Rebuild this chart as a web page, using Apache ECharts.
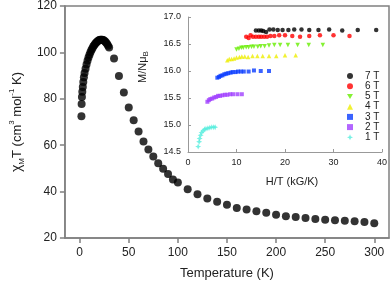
<!DOCTYPE html>
<html>
<head>
<meta charset="utf-8">
<script src="https://cdn.jsdelivr.net/npm/echarts@6/dist/echarts.min.js"></script>
<style>
html,body{margin:0;padding:0;background:#fff;}
#chart{width:391px;height:285px;}
</style>
</head>
<body>
<div id="chart"></div>
<script>
// Main curve: chi_M T vs Temperature
const temperature = [1.8, 2.0, 2.3, 2.7, 3.2, 3.7, 4.3, 5, 6, 7, 8, 9, 10, 11, 12, 13, 14, 15, 16, 17, 18, 19, 20, 21, 22, 23, 24, 25, 26, 27, 28, 29, 30,
  35, 40, 45, 50, 55, 60, 65, 70, 75, 80, 85, 90, 95, 100, 110, 120, 130, 140, 150, 160, 170, 180, 190, 200, 210, 220, 230, 240, 250, 260, 270, 280, 290, 300];
const chiT = [72.5, 77.8, 80.8, 83.0, 85.1, 87.2, 89.3, 91.1, 93.0, 94.8, 96.4, 97.8, 99.0, 100.1, 101.0, 101.8, 102.6, 103.2, 103.8, 104.3, 104.7, 105.0, 105.3, 105.4, 105.5, 105.4, 105.3, 105.0, 104.7, 104.2, 103.6, 102.9, 102.1,
  97.4, 89.8, 82.7, 76.2, 70.8, 65.9, 61.6, 58.2, 55.1, 52.2, 49.9, 47.6, 45.2, 43.9, 41.0, 38.9, 37.0, 35.6, 34.3, 32.9, 32.3, 31.5, 30.9, 30.0, 29.4, 29.0, 28.6, 28.2, 27.9, 27.6, 27.4, 27.2, 26.9, 26.4];
const tempTicks = [0, 50, 100, 150, 200, 250, 300];

// Inset: M/NuB vs H/T for each field
const fieldNames = ['7 T', '6 T', '5 T', '4 T', '3 T', '2 T', '1 T'];
const h7 = [14.0, 14.6, 15.1, 15.5, 16.1, 16.8, 17.6, 18.5, 19.5, 20.7, 21.9, 23.4, 25.0, 26.9, 29.1, 31.8, 35.0, 38.8];
const m7 = [16.75, 16.75, 16.75, 16.74, 16.72, 16.77, 16.77, 16.76, 16.76, 16.76, 16.77, 16.77, 16.76, 16.76, 16.77, 16.75, 16.76, 16.76];
const h6 = [12.0, 12.5, 12.9, 13.4, 14.0, 14.6, 15.1, 15.7, 16.3, 17.0, 17.8, 18.8, 20.0, 21.5, 23.1, 25.0, 27.2, 30.0, 33.3];
const m6 = [16.635, 16.61, 16.66, 16.635, 16.635, 16.635, 16.635, 16.635, 16.635, 16.65, 16.65, 16.66, 16.66, 16.65, 16.635, 16.65, 16.66, 16.66, 16.65];
const h5 = [10.0, 10.5, 11.0, 11.4, 12.0, 12.5, 13.1, 13.6, 14.4, 15.0, 15.8, 16.7, 17.8, 19.0, 20.6, 22.6, 24.9, 27.8];
const m5 = [16.40, 16.41, 16.43, 16.43, 16.44, 16.44, 16.45, 16.45, 16.45, 16.46, 16.46, 16.47, 16.48, 16.48, 16.48, 16.48, 16.48, 16.48];
const h4 = [8.1, 8.5, 9.0, 9.5, 10.0, 10.6, 11.1, 11.7, 12.4, 13.3, 14.3, 15.4, 16.7, 18.2, 20.0, 22.2];
const m4 = [16.20, 16.22, 16.22, 16.23, 16.25, 16.26, 16.27, 16.27, 16.26, 16.28, 16.28, 16.28, 16.28, 16.28, 16.29, 16.29];
const h3 = [6.05, 6.4, 6.7, 7.1, 7.5, 7.9, 8.3, 8.8, 9.2, 9.8, 10.3, 10.9, 11.5, 12.5, 13.6, 15.0, 16.7];
const m3 = [15.876, 15.89, 15.91, 15.92, 15.94, 15.95, 15.96, 15.97, 15.98, 15.98, 15.99, 15.99, 15.99, 15.99, 16.01, 16.0, 16.0];
const h2 = [4.0, 4.3, 4.6, 5.0, 5.4, 5.8, 6.2, 6.6, 7.1, 7.6, 8.1, 8.7, 9.3, 10.2, 11.1];
const m2 = [15.43, 15.46, 15.48, 15.49, 15.51, 15.52, 15.54, 15.54, 15.55, 15.56, 15.56, 15.57, 15.57, 15.57, 15.57];
const h1 = [2.1, 2.3, 2.4, 2.6, 2.8, 3.1, 3.4, 3.7, 4.1, 4.5, 4.9, 5.3, 5.6];
const m1 = [14.60, 14.69, 14.75, 14.81, 14.86, 14.89, 14.92, 14.93, 14.94, 14.95, 14.96, 14.96, 14.96];

const insetX = [h7, h6, h5, h4, h3, h2, h1];
const insetY = [m7, m6, m5, m4, m3, m2, m1];
const fieldColors = ['#000000', '#ff0000', '#66ee00', '#eeee00', '#0a3cff', '#a040ff', '#55eedd'];
const starPath = 'path://M0,-10 L3,-3 L10,0 L3,3 L0,10 L-3,3 L-10,0 L-3,-3 Z';
const downTriPath = 'path://M-10,-8 L10,-8 L0,9 Z';
const fieldSymbols = ['circle', 'circle', downTriPath, 'triangle', 'rect', 'rect', starPath];

const zip = (a, b) => a.map((v, i) => [v, b[i]]);
const FONT = "'Liberation Sans', Arial, sans-serif";

const chart = echarts.init(document.getElementById('chart'), null, {renderer: 'canvas'});

const series = [{
  type: 'scatter',
  xAxisIndex: 0, yAxisIndex: 0,
  data: zip(temperature, chiT),
  symbol: 'circle',
  symbolSize: 8,
  itemStyle: {color: '#000'},
  silent: true
}];
fieldNames.forEach((name, i) => {
  series.push({
    type: 'scatter',
    name: name,
    xAxisIndex: 1, yAxisIndex: 1,
    data: zip(insetX[i], insetY[i]),
    symbol: fieldSymbols[i],
    symbolSize: i === 6 ? 6 : (i >= 4 ? 4 : 4.5),
    itemStyle: {color: fieldColors[i]},
    silent: true
  });
});

chart.setOption({
  animation: false,
  backgroundColor: '#fff',
  textStyle: {fontFamily: FONT},
  grid: [
    {left: 56, top: 6, right: 2, bottom: 46, show: true, borderColor: '#808080', borderWidth: 1.5, backgroundColor: 'transparent'},
    {left: 188, top: 17, right: 9, bottom: 133}
  ],
  xAxis: [{
    gridIndex: 0, type: 'value', min: -15, max: 315,
    splitLine: {show: false},
    axisLine: {onZero: false, lineStyle: {color: '#808080', width: 1.5}},
    axisTick: {show: true, inside: false, length: 5, customValues: tempTicks, lineStyle: {color: '#808080', width: 1.5}},
    axisLabel: {customValues: tempTicks, fontSize: 12, color: '#222', margin: 9, fontFamily: FONT},
    name: 'Temperature (K)', nameLocation: 'middle', nameGap: 29,
    nameTextStyle: {fontSize: 13, color: '#222', fontFamily: FONT}
  }, {
    gridIndex: 1, type: 'value', min: 0, max: 40, interval: 10,
    splitLine: {show: false},
    axisLine: {onZero: false, lineStyle: {color: '#999', width: 1}},
    axisTick: {inside: true, length: 3, lineStyle: {color: '#999'}},
    axisLabel: {fontSize: 9, color: '#222', margin: 6, fontFamily: FONT}
  }],
  yAxis: [{
    gridIndex: 0, type: 'value', min: 20, max: 120, interval: 20,
    splitLine: {show: false},
    axisLine: {show: true, onZero: false, lineStyle: {color: '#808080', width: 1.5}},
    axisTick: {show: true, inside: false, length: 5, lineStyle: {color: '#808080', width: 1.5}},
    axisLabel: {fontSize: 12, color: '#222', margin: 8, fontFamily: FONT},
    name: '{chi|χ}{sub|M}{t|T (cm}{sup|3}{t| mol}{sup|-1}{t| K)}',
    nameLocation: 'middle', nameGap: 36,
    nameTextStyle: {
      fontFamily: FONT, color: '#222',
      rich: {
        chi: {fontSize: 14, lineHeight: 18, color: '#222', fontFamily: FONT},
        t: {fontSize: 13, lineHeight: 18, color: '#222', fontFamily: FONT},
        sub: {fontSize: 8, lineHeight: 10, verticalAlign: 'bottom', color: '#222', fontFamily: FONT},
        sup: {fontSize: 8, lineHeight: 10, verticalAlign: 'top', color: '#222', fontFamily: FONT}
      }
    }
  }, {
    gridIndex: 1, type: 'value', min: 14.5, max: 17.0, interval: 0.5,
    splitLine: {show: false},
    axisLine: {show: true, onZero: false, lineStyle: {color: '#999', width: 1}},
    axisTick: {show: true, inside: true, length: 3, lineStyle: {color: '#999'}},
    axisLabel: {fontSize: 9, color: '#222', margin: 7, fontFamily: FONT, formatter: v => v.toFixed(1)}
  }],
  legend: {
    orient: 'vertical',
    left: 342, top: 66,
    itemWidth: 6, itemHeight: 6,
    itemGap: 0,
    data: fieldNames,
    textStyle: {fontSize: 10, lineHeight: 10.2, color: '#222', fontFamily: FONT, padding: [0, 0, 0, 7]},
    selectedMode: false
  },
  graphic: [{
    type: 'text',
    x: 143, y: 67,
    rotation: Math.PI / 2,
    style: {
      text: '{a|M/Nμ}{b|B}',
      align: 'center', verticalAlign: 'middle',
      fontFamily: FONT,
      rich: {
        a: {fontSize: 11, lineHeight: 14, fill: '#222', fontFamily: FONT},
        b: {fontSize: 8, lineHeight: 8, verticalAlign: 'bottom', fill: '#222', fontFamily: FONT}
      }
    }
  }, {
    type: 'text',
    x: 292, y: 182,
    style: {
      text: 'H/T (kG/K)', fontSize: 11, fill: '#222', fontFamily: FONT,
      align: 'center', verticalAlign: 'middle'
    }
  }],
  series: series
});
</script>
</body>
</html>
